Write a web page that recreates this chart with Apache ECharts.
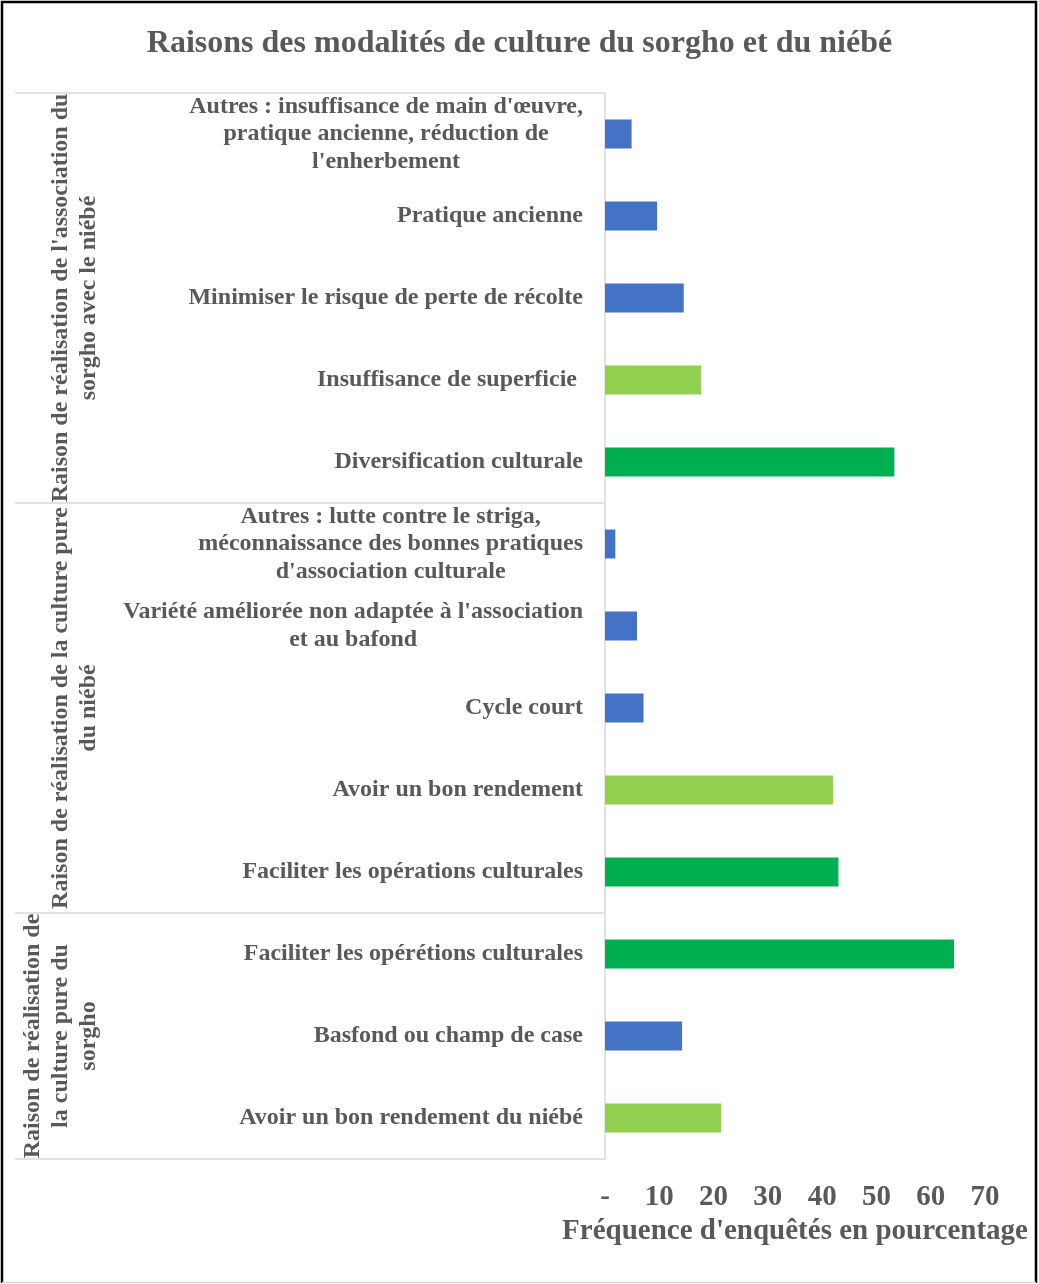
<!DOCTYPE html>
<html><head><meta charset="utf-8">
<script src="https://cdn.jsdelivr.net/npm/echarts@6/dist/echarts.min.js"></script>
<style>html,body{margin:0;padding:0;background:#fff}#c{width:1039px;height:1284px}</style>
</head><body><div id="c"></div>
<script>
const titleText = "Raisons des modalités de culture du sorgho et du niébé";
const xAxisTitle = "Fréquence d'enquêtés en pourcentage";
const categories = [
  "Autres : insuffisance de main d'œuvre,\npratique ancienne, réduction de\nl'enherbement",
  "Pratique ancienne",
  "Minimiser le risque de perte de récolte",
  "Insuffisance de superficie ",
  "Diversification culturale",
  "Autres : lutte contre le striga,\nméconnaissance des bonnes pratiques\nd'association culturale",
  "Variété améliorée non adaptée à l'association\net au bafond",
  "Cycle court",
  "Avoir un bon rendement",
  "Faciliter les opérations culturales",
  "Faciliter les opérétions culturales",
  "Basfond ou champ de case",
  "Avoir un bon rendement du niébé"
];
// three colour families of bars, same category positions ('-' = no bar)
const blueValues  = [4.9, 9.6, 14.5, '-', '-', 1.9, 5.9, 7.1, '-', '-', '-', 14.2, '-'];
const lightValues = ['-', '-', '-', 17.7, '-', '-', '-', '-', 42.0, '-', '-', '-', 21.4];
const darkValues  = ['-', '-', '-', '-', 53.3, '-', '-', '-', '-', 43.0, 64.3, '-', '-'];
const groupNames = [
  "Raison de réalisation de l'association du\nsorgho avec le niébé",
  "Raison de réalisation de la culture pure\ndu niébé",
  "Raison de réalisation de\nla culture pure du\nsorgho"
];
const groupSizes = [5, 5, 3];
const xTickLabels = ['-', '10', '20', '30', '40', '50', '60', '70'];

const groupBounds = [0];
const groupCenters = [];
groupSizes.forEach(s => {
  const start = groupBounds[groupBounds.length - 1];
  groupCenters.push(start + s / 2);
  groupBounds.push(start + s);
});

const FONT = "'Liberation Serif', 'Times New Roman', serif";
const TXT = '#595959';

const chart = echarts.init(document.getElementById('c'));
chart.setOption({
  animation: false,
  backgroundColor: '#fff',
  title: {
    text: titleText, left: 'center', top: 23,
    textStyle: {fontFamily: FONT, fontWeight: 'bold', fontSize: 32, color: TXT}
  },
  graphic: [{
    type: 'polyline', shape: {points: [[2, 1283], [2, 2], [1036, 2], [1036, 1283]]},
    style: {fill: null, stroke: '#000', lineWidth: 2.5}, silent: true
  }, {
    type: 'line', shape: {x1: 2, y1: 1282.5, x2: 1036, y2: 1282.5},
    style: {stroke: '#d9d9d9', lineWidth: 1.5}, silent: true
  }],
  grid: {left: 605, right: 54, top: 93, bottom: 125, containLabel: false},
  xAxis: {
    type: 'value', min: 0, max: 70, interval: 10,
    name: xAxisTitle, nameLocation: 'middle', nameGap: 58,
    nameTextStyle: {fontFamily: FONT, fontWeight: 'bold', fontSize: 29, color: TXT},
    axisLine: {show: false}, axisTick: {show: false}, splitLine: {show: false},
    axisLabel: {
      margin: 24, fontFamily: FONT, fontWeight: 'bold', fontSize: 29, color: TXT,
      formatter: v => xTickLabels[Math.round(v / 10)]
    }
  },
  yAxis: [{
    type: 'category', data: categories, inverse: true,
    axisLine: {show: true, lineStyle: {color: '#d9d9d9', width: 1.5}},
    axisTick: {show: false}, splitLine: {show: false},
    axisLabel: {
      interval: 0, margin: 22, color: TXT,
      formatter: v => v.split('\n').map(l => '{c|' + l + '}').join('\n'),
      rich: {c: {align: 'center', fontFamily: FONT, fontWeight: 'bold', fontSize: 24, lineHeight: 27.5, color: TXT}}
    }
  }, {
    type: 'value', min: 0, max: 13, inverse: true, position: 'left',
    axisLine: {show: false}, splitLine: {show: false},
    axisTick: {show: true, customValues: groupBounds, length: 590, inside: false,
      lineStyle: {color: '#d9d9d9', width: 1.5}},
    axisLabel: {
      customValues: groupCenters, rotate: 90, margin: 502,
      fontFamily: FONT, fontWeight: 'bold', fontSize: 24, lineHeight: 28, color: TXT,
      formatter: v => groupNames[groupCenters.indexOf(v)] || ''
    }
  }],
  series: [
    {type: 'bar', name: 'a', stack: 'all', data: blueValues, barWidth: 29, itemStyle: {color: '#4472C4'}},
    {type: 'bar', name: 'b', stack: 'all', data: lightValues, barWidth: 29, itemStyle: {color: '#92D050'}},
    {type: 'bar', name: 'c', stack: 'all', data: darkValues, barWidth: 29, itemStyle: {color: '#00B050'}}
  ]
});
</script></body></html>
